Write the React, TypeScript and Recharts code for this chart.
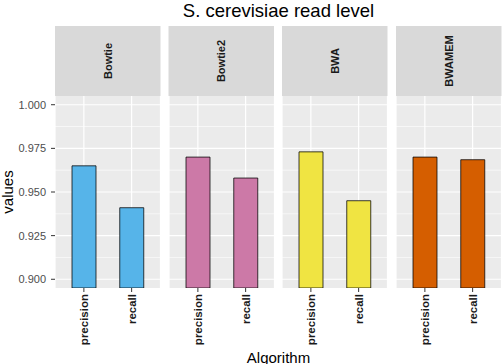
import { BarChart, Bar, Cell, XAxis, YAxis, CartesianGrid } from 'recharts'

const ALGORITHMS = ['Bowtie', 'Bowtie2', 'BWA', 'BWAMEM']
const METRICS = ['precision', 'recall']
const PRECISION = [0.965, 0.970, 0.973, 0.970]
const RECALL = [0.941, 0.958, 0.945, 0.9685]
const COLORS = ['#56B4E9', '#CC79A7', '#F0E442', '#D55E00']
const Y_TICKS = [0.9, 0.925, 0.95, 0.975, 1.0]
const Y_MINOR = [0.9125, 0.9375, 0.9625, 0.9875]

const FONT = '"Liberation Sans", Arial, Helvetica, sans-serif'
const W = 502
const H = 364
const PANEL_LEFT = [55, 168.5, 282, 396]
const PANEL_W = 105.5
const STRIP_TOP = 26
const PANEL_TOP = 96
const PLOT_H = 192
const X_AXIS_H = 76
const Y_AXIS_W = 55

// rotated, bold metric names under each facet
function MetricTick(props: any) {
  const { x, y, payload } = props
  return (
    <g transform={`translate(${x},${y})`}>
      <text
        transform="rotate(-90)"
        textAnchor="end"
        dominantBaseline="central"
        fontFamily={FONT}
        fontSize={11.5}
        fontWeight={700}
        fill="#1a1a1a"
      >
        {payload.value}
      </text>
    </g>
  )
}

function Facet({ index }: { index: number }) {
  const showY = index === 0
  const data = METRICS.map((m, j) => ({
    metric: m,
    value: j === 0 ? PRECISION[index] : RECALL[index],
  }))
  return (
    <div
      style={{
        position: 'absolute',
        left: showY ? PANEL_LEFT[0] - Y_AXIS_W : PANEL_LEFT[index],
        top: PANEL_TOP,
      }}
    >
      <BarChart
        width={PANEL_W + (showY ? Y_AXIS_W : 0)}
        height={PLOT_H + X_AXIS_H}
        data={data}
        margin={{ top: 0, right: 0, bottom: 0, left: 0 }}
      >
        <CartesianGrid
          fill="#EBEBEB"
          stroke="#ffffff"
          strokeWidth={0.6}
          horizontalValues={Y_MINOR}
          vertical={false}
        />
        <CartesianGrid stroke="#ffffff" strokeWidth={1.2} horizontalValues={Y_TICKS} />
        <XAxis
          dataKey="metric"
          padding={{ left: 5, right: 5 }}
          height={X_AXIS_H}
          interval={0}
          axisLine={false}
          tickSize={4}
          tickLine={{ stroke: '#333333' }}
          tick={<MetricTick />}
        />
        <YAxis
          type="number"
          hide={!showY}
          width={Y_AXIS_W}
          domain={[0.895, 1.005]}
          allowDataOverflow
          ticks={Y_TICKS}
          tickFormatter={(v: number) => v.toFixed(3)}
          axisLine={false}
          tickSize={4}
          tickMargin={5}
          tickLine={{ stroke: '#333333' }}
          tick={{ fill: '#4D4D4D', fontSize: 11, fontFamily: FONT }}
        />
        <Bar
          dataKey="value"
          barSize={24}
          stroke="#000000"
          strokeOpacity={0.75}
          strokeWidth={1}
          isAnimationActive={false}
        >
          {data.map((_, i) => (
            <Cell key={i} fill={COLORS[index]} />
          ))}
        </Bar>
      </BarChart>
    </div>
  )
}

export default function App() {
  const centerX = (PANEL_LEFT[0] + W) / 2
  return (
    <div style={{ position: 'absolute', left: 0, top: 0, width: W, height: H, background: '#fff', overflow: 'hidden' }}>
      <svg width={W} height={H} style={{ position: 'absolute', left: 0, top: 0 }}>
        <text x={centerX} y={16.5} textAnchor="middle" fontFamily={FONT} fontSize={18.5} fill="#000">
          S. cerevisiae read level
        </text>
        {ALGORITHMS.map((name, i) => (
          <g key={name}>
            <rect x={PANEL_LEFT[i]} y={STRIP_TOP} width={PANEL_W} height={PANEL_TOP - STRIP_TOP} fill="#D9D9D9" />
            <text
              transform={`translate(${PANEL_LEFT[i] + PANEL_W / 2},${(STRIP_TOP + PANEL_TOP) / 2}) rotate(-90)`}
              textAnchor="middle"
              dominantBaseline="central"
              fontFamily={FONT}
              fontSize={11}
              fontWeight={700}
              fill="#1A1A1A"
            >
              {name}
            </text>
          </g>
        ))}
        <text
          transform={`translate(12.5,${PANEL_TOP + PLOT_H / 2}) rotate(-90)`}
          textAnchor="middle"
          fontFamily={FONT}
          fontSize={15}
          fill="#000"
        >
          values
        </text>
        <text x={centerX} y={363} textAnchor="middle" fontFamily={FONT} fontSize={15} fill="#000">
          Algorithm
        </text>
      </svg>
      {ALGORITHMS.map((name, i) => (
        <Facet key={name} index={i} />
      ))}
    </div>
  )
}
